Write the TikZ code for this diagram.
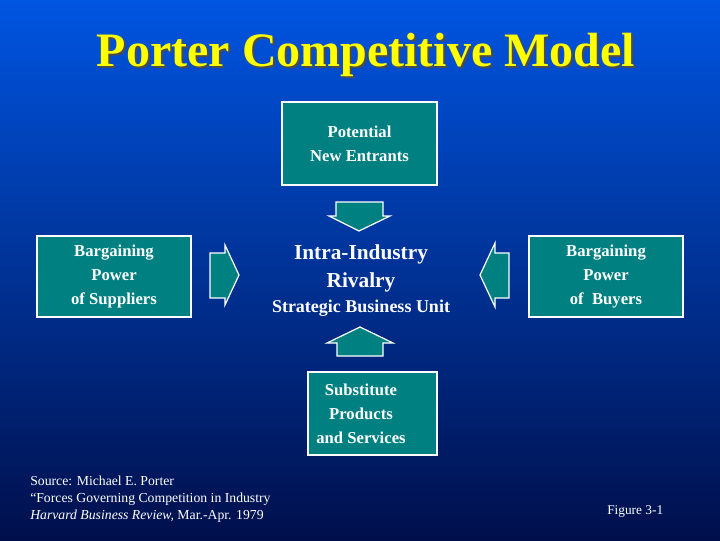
\documentclass[tikz,border=0pt]{standalone}
\usepackage{fontspec}
\setmainfont{Liberation Serif}
\begin{document}
\begin{tikzpicture}[x=0.75pt,y=-0.75pt]
\definecolor{tealc}{RGB}{0,128,128}
\definecolor{ttl}{RGB}{255,255,0}
\tikzset{box/.style={draw=white,line width=1.2pt,fill=tealc,text=white,font=\bfseries\fontsize{12.5}{18}\selectfont,align=center,inner sep=0pt},
 blk/.style={draw=white,line width=0.9pt,fill=tealc},
 txt/.style={text=white,inner sep=0pt}}
\shade[top color={rgb,255:red,0;green,85;blue,225},bottom color={rgb,255:red,0;green,15;blue,75}] (0,0) rectangle (720,540);
\useasboundingbox (0,0) rectangle (720,540);
\node[text=black!70,font=\bfseries\fontsize{36}{40}\selectfont] (tsh) at (368,57) {Porter Competitive Model};
\node[text=ttl,font=\bfseries\fontsize{36}{40}\selectfont] (title) at (366,55) {Porter Competitive Model};
\node[box,minimum width=116.25pt,minimum height=62.25pt] (pne) at (359.5,143.5) {Potential\\New Entrants};
\node[box,minimum width=115.5pt,minimum height=60.75pt] (sup) at (114,276.5) {Bargaining\\Power\\of Suppliers};
\node[box,minimum width=115.5pt,minimum height=60.75pt] (buy) at (606,276.5) {Bargaining\\Power\\of \ Buyers};
\node[box,minimum width=96.75pt,minimum height=62.25pt] (sub) at (372.5,413.5) {};
\node[box,draw=none,fill=none] (subt) at (361,413.5) {Substitute\\Products\\and Services};
\node[txt,font=\bfseries\fontsize{16}{21}\selectfont,align=center] (ir) at (361,268) {Intra-Industry\\Rivalry};
\node[txt,font=\bfseries\fontsize{13.5}{16}\selectfont] (sbu) at (361,308) {Strategic Business Unit};
\draw[blk] (336,202) -- (383,202) -- (383,216) -- (390,216) -- (359,231) -- (329,216) -- (336,216) -- cycle;
\draw[blk] (337,356) -- (383,356) -- (383,343) -- (393,343) -- (360,327) -- (327,343) -- (337,343) -- cycle;
\draw[blk] (210,253) -- (225,253) -- (225,245) -- (239,275) -- (225,305) -- (225,298) -- (210,298) -- cycle;
\draw[blk] (509,253) -- (495,253) -- (495,243) -- (480,275) -- (495,307) -- (495,298) -- (509,298) -- cycle;
\node[txt,font=\fontsize{10.3}{12.8}\selectfont,align=left,anchor=north west] (src) at (30,476) {Source: Michael E. Porter\\``Forces Governing Competition in Industry\\\textit{Harvard Business Review,} Mar.-Apr. 1979};
\node[txt,font=\fontsize{10}{12}\selectfont,anchor=west] (fig) at (607,512) {Figure 3-1};
\end{tikzpicture}
\end{document}
